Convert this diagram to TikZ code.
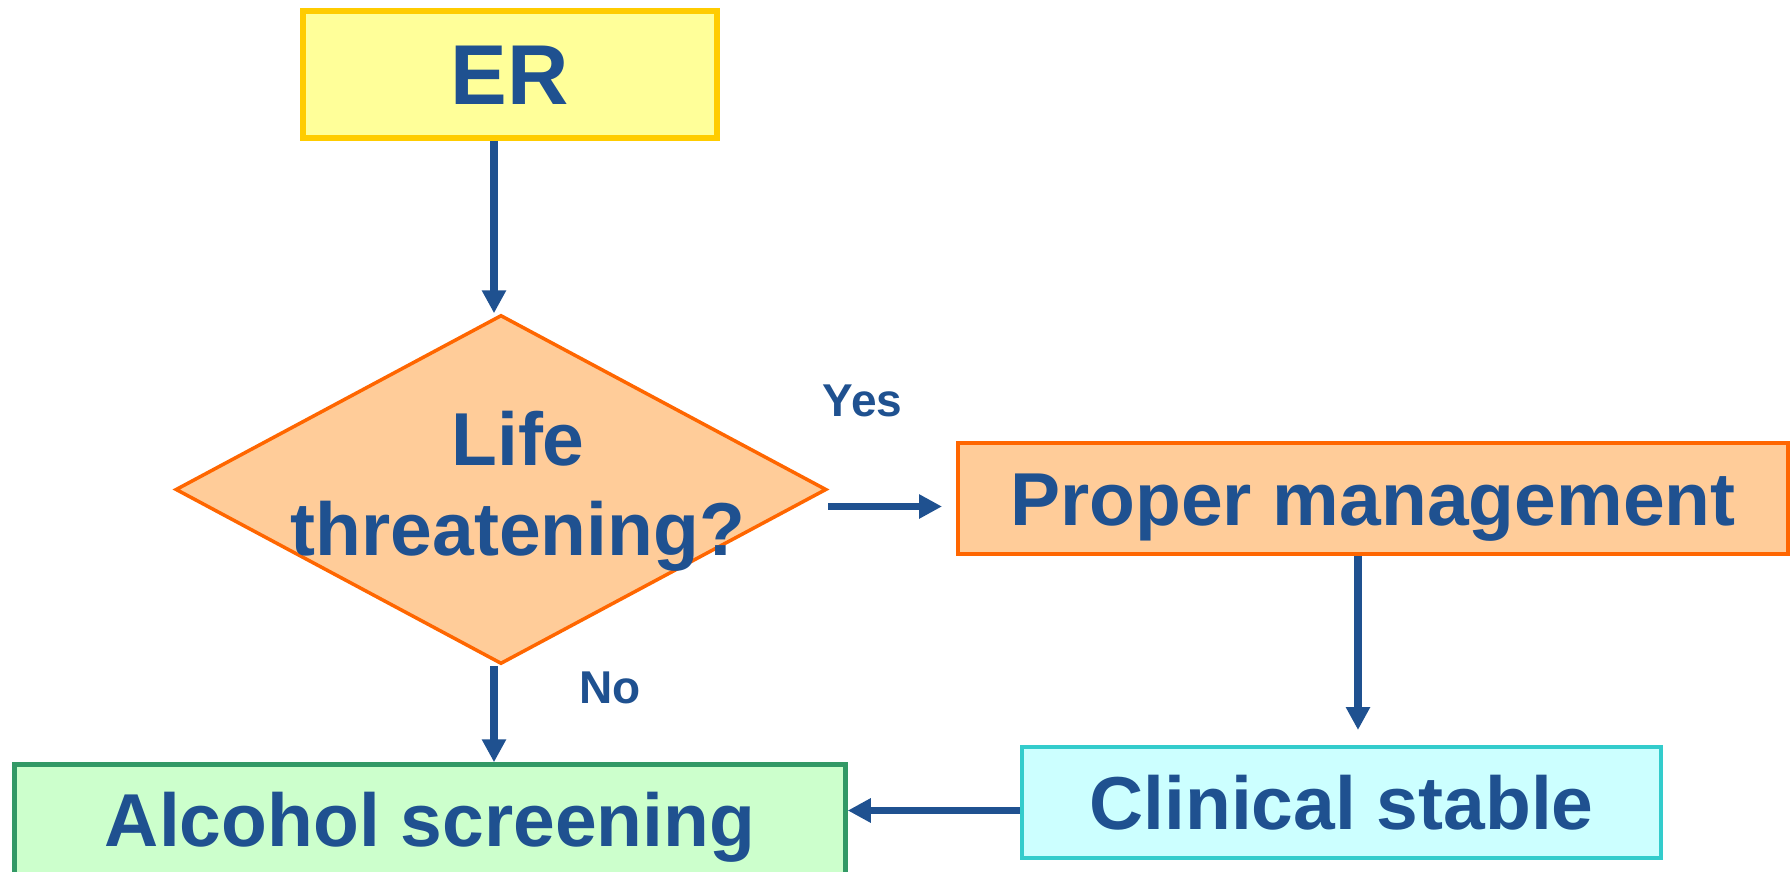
\documentclass[tikz,border=0pt]{standalone}
\usepackage{fontspec}
\setmainfont{Liberation Sans}
\usetikzlibrary{shapes.geometric,arrows.meta,calc}
\definecolor{txtblue}{HTML}{1F5190}
\definecolor{erfill}{HTML}{FFFF99}
\definecolor{erline}{HTML}{FFCC00}
\definecolor{orfill}{HTML}{FFCC99}
\definecolor{orline}{HTML}{FF6600}
\definecolor{cyfill}{HTML}{CCFFFF}
\definecolor{cyline}{HTML}{33CCCC}
\definecolor{grfill}{HTML}{CCFFCC}
\definecolor{grline}{HTML}{339966}
\begin{document}
\begin{tikzpicture}[x=1pt,y=-1pt,
  box/.style={draw, rectangle, inner sep=0pt, text height=53.7pt, text depth=0pt,
    font=\bfseries\fontsize{75}{90}\selectfont, text=txtblue},
  arr/.style={draw=txtblue, line width=7.5pt, -{Triangle[length=23pt,width=23pt]}},
  lab/.style={font=\bfseries\fontsize{46}{55}\selectfont, text=txtblue, inner sep=0pt,
    text height=33pt, text depth=0pt}]
\useasboundingbox (0,0) rectangle (1792,872);
\fill[white] (0,0) rectangle (1792,872);
\clip (0,0) rectangle (1792,872);
% nodes
\node[box, fill=erfill, draw=erline, line width=6pt, minimum width=414pt, minimum height=127pt,
  font=\bfseries\fontsize{85}{100}\selectfont, text height=60.9pt] (er) at (510,74.5) {ER};
\node[diamond, draw=orline, fill=orfill, line width=3.5pt, inner sep=0pt,
  minimum width=651pt, minimum height=349pt] (dia) at (501,489.5) {};
\node[font=\bfseries\fontsize{75}{90}\selectfont, text=txtblue, align=center, inner sep=0pt] (diatext) at (518,491.5) {Life\\threatening?};
\node[box, fill=orfill, draw=orline, line width=4pt, minimum width=830pt, minimum height=111pt] (pm) at (1373,498.5) {Proper management};
\node[box, fill=cyfill, draw=cyline, line width=4pt, minimum width=639pt, minimum height=111pt] (cs) at (1341.5,802.5) {Clinical stable};
\node[box, fill=grfill, draw=grline, line width=4.5pt, minimum width=831pt, minimum height=111pt] (as) at (430,820) {Alcohol screening};
\node[lab] (yes) at (862.5,400) {Yes};
\node[lab] (no) at (610,686.5) {No};
% connectors
\coordinate (c1) at (494,0);
\coordinate (c2) at (0,506.5);
\coordinate (c3) at (1358,0);
\coordinate (c4) at (0,810.5);
\draw[arr] (er.south -| c1) -- (dia.north -| c1);
\draw[arr] (dia.east |- c2) -- ($(pm.west |- c2)+(-14,0)$);
\draw[arr] (pm.south -| c3) -- ($(cs.north -| c3)+(0,-15)$);
\draw[arr] (cs.west |- c4) -- (as.east |- c4);
\draw[arr] (dia.south -| c1) -- (as.north -| c1);
\end{tikzpicture}
\end{document}
